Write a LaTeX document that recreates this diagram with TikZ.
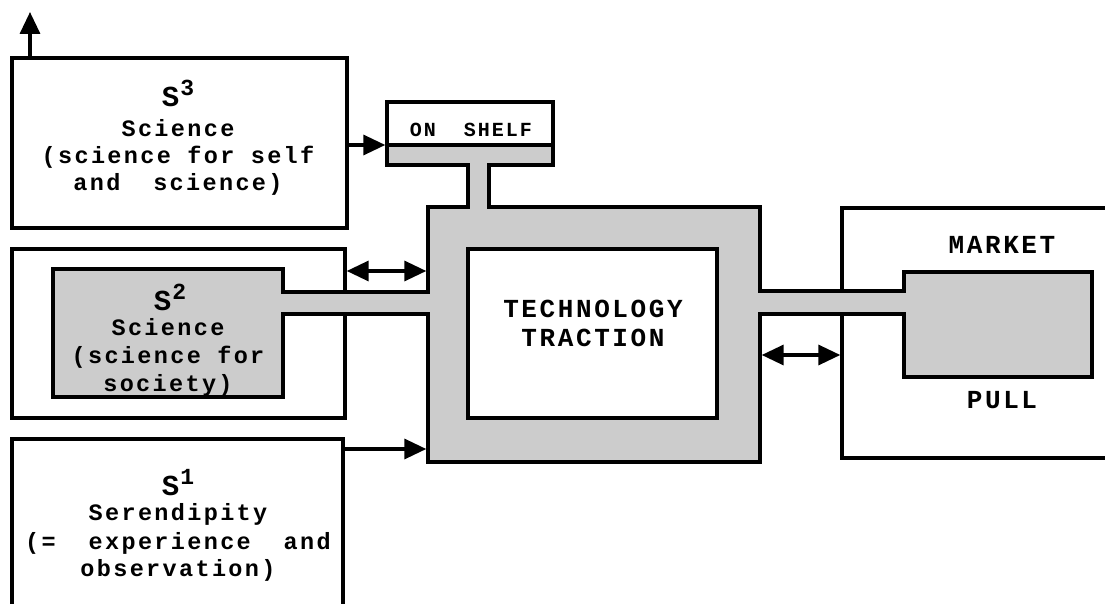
\documentclass[tikz,border=0pt]{standalone}
\usepackage{fontspec}
\newfontfamily\tw{Liberation Mono}[LetterSpace=10]
\usetikzlibrary{arrows.meta,fit}
\newcommand\bodyf{\tw\bfseries\fontsize{23.5}{27}\selectfont\spaceskip=0.7em\relax}
\newcommand\capf{\tw\bfseries\fontsize{26}{28}\selectfont\spaceskip=0.7em\relax}
\newcommand\shelff{\tw\bfseries\fontsize{20}{22}\selectfont\spaceskip=0.7em\relax}
\newcommand\bigS[1]{{\fontsize{29}{30}\selectfont S}\hspace{1pt}\raisebox{11pt}{\fontsize{23}{24}\selectfont #1}}
\definecolor{shade}{gray}{0.8}
\begin{document}
\begin{tikzpicture}[x=1pt,y=-1pt,line width=3.4pt,
  frame/.style={draw, inner sep=0pt},
  ghost/.style={inner sep=0pt},
  arr/.style={-{Triangle[length=22pt,width=20pt]}},
  darr/.style={{Triangle[length=22pt,width=20pt]}-{Triangle[length=22pt,width=20pt]}},
  txt/.style={anchor=base, inner sep=0pt, font=\bodyf},
  captxt/.style={anchor=base, inner sep=0pt, font=\capf}]
\useasboundingbox (0,0) rectangle (1105,604);
\clip (0,0) rectangle (1105,604);
% outer boxes
\node[frame, fit={(12,58)(347,228)}] (s3) {};
\node[frame, fit={(12,249)(345,418)}] (s2) {};
\node[frame, fit={(12,439)(343,650)}] (s1) {};
\node[frame, fit={(842,208)(1140,458)}] (mkt) {};
% shaded technology body
\filldraw[fill=shade] (387,145) -- (553,145) -- (553,165) -- (489,165) -- (489,207)
  -- (760,207) -- (760,291) -- (904,291) -- (904,272) -- (1092,272) -- (1092,377)
  -- (904,377) -- (904,314) -- (760,314) -- (760,462) -- (428,462) -- (428,314)
  -- (283,314) -- (283,397) -- (53,397) -- (53,269) -- (283,269) -- (283,292)
  -- (428,292) -- (428,207) -- (468,207) -- (468,165) -- (387,165) -- cycle;
\node[ghost, fit={(428,207)(760,462)}] (tech) {};
\node[ghost, fit={(53,269)(283,397)}] (s2core) {};
\node[ghost, fit={(904,272)(1092,377)}] (mktcore) {};
\node[frame, fill=white, fit={(468,249)(717,418)}] (techin) {};
\node[frame, fill=white, fit={(387,102)(553,145)}] (shelf) {};
% texts
\node[txt] (s3s) at (178,107) {\bigS{3}};
\node[txt] (s3a) at (178,137) {Science};
\node[txt] (s3b) at (178,164) {(science for self};
\node[txt] (s3c) at (178,191) {and\ \ science)};
\node[txt] (s2s) at (170,310) {\bigS{2}};
\node[txt] (s2a) at (168,335) {Science};
\node[txt] (s2b) at (168,363) {(science for};
\node[txt] (s2c) at (168,391) {society)};
\node[txt] (s1s) at (178,495) {\bigS{1}};
\node[txt] (s1a) at (178,520) {Serendipity};
\node[txt] (s1b) at (178,549) {(=\ \ experience\ \ and};
\node[txt] (s1c) at (178,576) {observation)};
\node[captxt] (t1) at (593,317) {TECHNOLOGY};
\node[captxt] (t2) at (593,346) {TRACTION};
\node[captxt] (m1) at (1002,253) {MARKET};
\node[captxt] (m2) at (1002,408) {PULL};
\node[anchor=base, inner sep=0pt, font=\shelff] (sh) at (471,137) {ON\ \ SHELF};
% connectors
\coordinate (upend) at (30,12);
\coordinate (ya) at (0,145);
\coordinate (yb) at (0,271);
\coordinate (yc) at (0,449);
\coordinate (yd) at (0,355);
\draw[arr] (s3.north -| upend) -- (upend);
\draw[arr] (s3.east |- ya) -- (shelf.west |- ya);
\draw[darr] (s2.east |- yb) -- (tech.west |- yb);
\draw[arr] (s1.east |- yc) -- (tech.west |- yc);
\draw[darr] (tech.east |- yd) -- (mkt.west |- yd);
\end{tikzpicture}
\end{document}
